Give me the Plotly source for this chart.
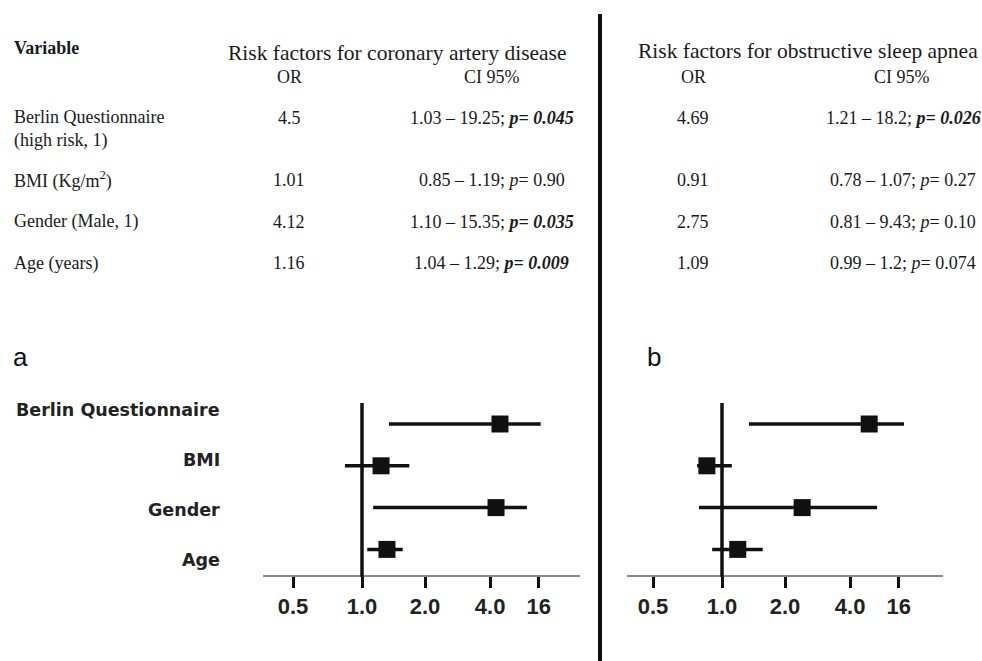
import plotly.graph_objects as go

# ---------------- data ----------------
table_vars = ["Berlin Questionnaire<br>(high risk, 1)", "BMI (Kg/m<sup>2</sup>)", "Gender (Male, 1)", "Age (years)"]
cad_or = ["4.5", "1.01", "4.12", "1.16"]
cad_lo = ["1.03", "0.85", "1.10", "1.04"]
cad_hi = ["19.25", "1.19", "15.35", "1.29"]
cad_p = ["0.045", "0.90", "0.035", "0.009"]
osa_or = ["4.69", "0.91", "2.75", "1.09"]
osa_lo = ["1.21", "0.78", "0.81", "0.99"]
osa_hi = ["18.2", "1.07", "9.43", "1.2"]
osa_p = ["0.026", "0.27", "0.10", "0.074"]

plot_vars = ["Berlin Questionnaire", "BMI", "Gender", "Age"]
# forest plot values as drawn, in log2(OR) units of the plotted scale
a_est = [2.10, 0.29, 2.04, 0.38]
a_lo = [0.41, -0.26, 0.17, 0.08]
a_hi = [2.72, 0.72, 2.51, 0.62]
b_est = [2.24, -0.23, 1.22, 0.24]
b_lo = [0.41, -0.38, -0.35, -0.15]
b_hi = [2.77, 0.15, 2.36, 0.62]
tick_pos = [-1.05, 0, 0.96, 1.95, 2.69]
tick_text = ["0.5", "1.0", "2.0", "4.0", "16"]

# ---------------- helpers ----------------
W, H = 982, 661
def px(x):
    return x / W
def py(y):
    return 1 - y / H

SERIF = "Liberation Serif, Times New Roman, serif"
SANS = "Liberation Sans, Arial, sans-serif"
ROWSANS = "DejaVu Sans, Verdana, sans-serif"
TXT = "#1a1a1a"

fig = go.Figure()
rows = list(range(len(plot_vars)))

def add_forest(est, lo, hi, xa, ya):
    fig.add_trace(go.Scatter(
        x=est, y=rows, mode="markers", xaxis=xa, yaxis=ya,
        marker=dict(symbol="square", size=17, color="#111111"),
        error_x=dict(type="data", symmetric=False,
                     array=[h - e for h, e in zip(hi, est)],
                     arrayminus=[e - l for e, l in zip(est, lo)],
                     width=0, thickness=3.5, color="#111111"),
        showlegend=False, hoverinfo="skip", cliponaxis=False))

add_forest(a_est, a_lo, a_hi, "x", "y")
add_forest(b_est, b_lo, b_hi, "x2", "y2")

ydom = [py(574.5), py(380)]
yrange = [(574.5 - 424) / 41.8, (380 - 424) / 41.8]
xcommon = dict(showline=True, linecolor="#8a8a8a", linewidth=2, ticks="outside",
               ticklen=11, tickwidth=3, tickcolor="#111111", showgrid=False,
               zeroline=False, tickmode="array", tickvals=tick_pos, ticktext=tick_text,
               tickfont=dict(family=SANS, size=22, color="#222222", weight="bold"),
               fixedrange=True)
ycommon = dict(domain=ydom, range=yrange, visible=False, fixedrange=True)

fig.update_layout(
    width=W, height=H, margin=dict(l=0, r=0, t=0, b=0),
    paper_bgcolor="white", plot_bgcolor="white",
    xaxis=dict(domain=[px(263), px(580)], range=[-(362 - 263) / 65.7, (580 - 362) / 65.7],
               anchor="y", **xcommon),
    yaxis=dict(anchor="x", **ycommon),
    xaxis2=dict(domain=[px(627), px(943)], range=[-(722 - 627) / 65.7, (943 - 722) / 65.7],
                anchor="y2", **xcommon),
    yaxis2=dict(anchor="x2", **ycommon),
)

shapes = []
# reference lines at OR = 1
for xa in ("x", "x2"):
    shapes.append(dict(type="line", xref=xa, yref="paper", x0=0, x1=0,
                       y0=py(577), y1=py(403), line=dict(color="#111111", width=3.5)))
# central divider
shapes.append(dict(type="line", xref="paper", yref="paper", x0=px(600), x1=px(600),
                   y0=py(661), y1=py(14), line=dict(color="#111111", width=4)))
fig.update_layout(shapes=shapes)

ann = []
def text(x, y, s, size=18, family=SERIF, xanchor="center", color=TXT, weight="normal"):
    ann.append(dict(x=px(x), y=py(y), xref="paper", yref="paper", text=s, showarrow=False,
                    xanchor=xanchor, yanchor="middle", align=xanchor if xanchor != "center" else "center",
                    font=dict(family=family, size=size, color=color, weight=weight)))

# table headers
text(12, 48, "<b>Variable</b>", xanchor="left")
text(397, 53, "Risk factors for coronary artery disease", size=21.5)
text(808, 51, "Risk factors for obstructive sleep apnea", size=21.5)
for cx, s in ((289, "OR"), (492, "CI 95%"), (693, "OR"), (902, "CI 95%")):
    text(cx, 77, s)

def ci_text(lo, hi, p):
    if float(p) < 0.05:
        return f"{lo} – {hi}; <b><i>p= {p}</i></b>"
    return f"{lo} – {hi}; <i>p</i>= {p}"

row_y = [118, 180, 222, 263]
for i, v in enumerate(table_vars):
    nl = v.count("<br>")
    text(12, row_y[i] + nl * 11, v, xanchor="left")
    text(289, row_y[i], cad_or[i])
    text(492, row_y[i], ci_text(cad_lo[i], cad_hi[i], cad_p[i]))
    text(693, row_y[i], osa_or[i])
    text(903, row_y[i], ci_text(osa_lo[i], osa_hi[i], osa_p[i]))

# panel letters
text(11, 357, "a", size=26, family=SANS, xanchor="left", color="#111111")
text(645, 357, "b", size=26, family=SANS, xanchor="left", color="#111111")

# forest row labels
for i, v in enumerate(plot_vars):
    text(222, 410 + 50 * i, v, size=17.5, family=ROWSANS, xanchor="right",
         color="#222222", weight="bold")

fig.update_layout(annotations=ann)

fig.write_html("out.html", config={"displayModeBar": False},
               post_script="document.body.style.margin='0';document.body.style.overflow='hidden';")
